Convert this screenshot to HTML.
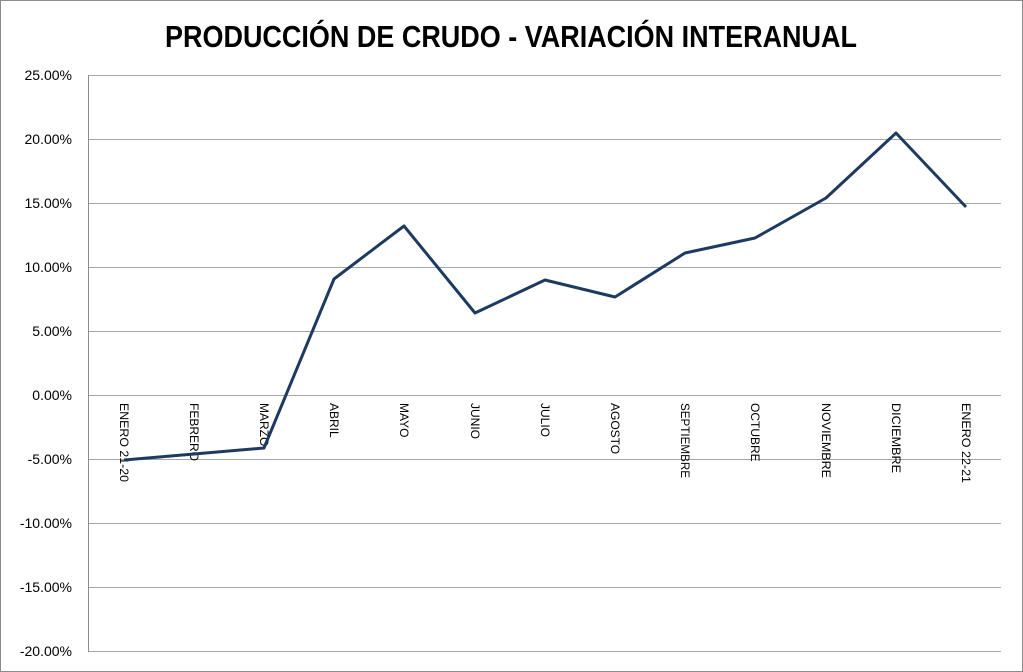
<!DOCTYPE html>
<html><head><meta charset="utf-8"><style>
html,body{margin:0;padding:0;background:#fff}
svg{display:block}
</style></head><body>
<svg width="1023" height="672" viewBox="0 0 1023 672" xmlns="http://www.w3.org/2000/svg" font-family="Liberation Sans, sans-serif">
<rect x="0.5" y="0.5" width="1022" height="671" fill="#fff" stroke="#8c8c8c"/>
<text x="511" y="47" text-anchor="middle" font-size="31" font-weight="bold" textLength="692" lengthAdjust="spacingAndGlyphs">PRODUCCIÓN DE CRUDO - VARIACIÓN INTERANUAL</text>
<g stroke="#a6a6a6" stroke-width="1">
<line x1="88" y1="75.5" x2="1001" y2="75.5"/>
<line x1="88" y1="139.5" x2="1001" y2="139.5"/>
<line x1="88" y1="203.5" x2="1001" y2="203.5"/>
<line x1="88" y1="267.5" x2="1001" y2="267.5"/>
<line x1="88" y1="331.5" x2="1001" y2="331.5"/>
<line x1="88" y1="395.5" x2="1001" y2="395.5"/>
<line x1="88" y1="459.5" x2="1001" y2="459.5"/>
<line x1="88" y1="523.5" x2="1001" y2="523.5"/>
<line x1="88" y1="587.5" x2="1001" y2="587.5"/>
<line x1="88" y1="651.5" x2="1001" y2="651.5"/>
<line x1="88.5" y1="75" x2="88.5" y2="652" stroke="#8c8c8c"/>
</g>
<g font-size="14" text-anchor="end" fill="#000">
<text x="72" y="80">25.00%</text>
<text x="72" y="144">20.00%</text>
<text x="72" y="208">15.00%</text>
<text x="72" y="272">10.00%</text>
<text x="72" y="336">5.00%</text>
<text x="72" y="400">0.00%</text>
<text x="72" y="464">-5.00%</text>
<text x="72" y="528">-10.00%</text>
<text x="72" y="592">-15.00%</text>
<text x="72" y="656">-20.00%</text>
</g>
<g font-size="12" fill="#000">
<text transform="translate(120,403) rotate(90)" textLength="79" lengthAdjust="spacingAndGlyphs">ENERO 21-20</text>
<text transform="translate(190,403) rotate(90)">FEBRERO</text>
<text transform="translate(260,403) rotate(90)">MARZO</text>
<text transform="translate(330,403) rotate(90)">ABRIL</text>
<text transform="translate(400,403) rotate(90)">MAYO</text>
<text transform="translate(471,403) rotate(90)">JUNIO</text>
<text transform="translate(541,403) rotate(90)">JULIO</text>
<text transform="translate(611,403) rotate(90)">AGOSTO</text>
<text transform="translate(681,403) rotate(90)" textLength="75" lengthAdjust="spacingAndGlyphs">SEPTIEMBRE</text>
<text transform="translate(751,403) rotate(90)">OCTUBRE</text>
<text transform="translate(822,403) rotate(90)" textLength="75" lengthAdjust="spacingAndGlyphs">NOVIEMBRE</text>
<text transform="translate(892,403) rotate(90)" textLength="70" lengthAdjust="spacingAndGlyphs">DICIEMBRE</text>
<text transform="translate(962,403) rotate(90)" textLength="80" lengthAdjust="spacingAndGlyphs">ENERO 22-21</text>
</g>
<polyline fill="none" stroke="#1f3a60" stroke-width="3" stroke-linejoin="round" points="124,460 194,454 264,448 334,279 404,226 475,313 545,280 615,297 685,253 755,238 826,198 896,133 966,207"/>
</svg>
</body></html>
